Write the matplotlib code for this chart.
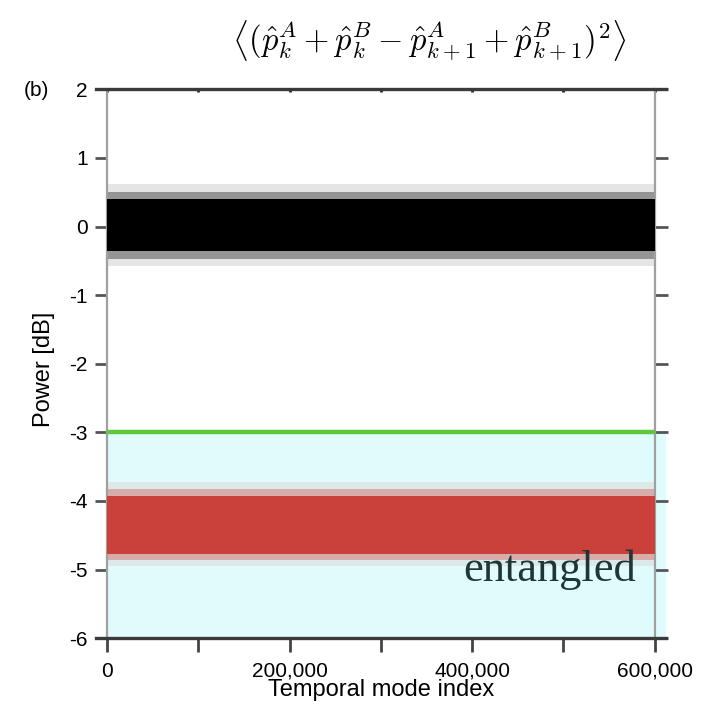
import matplotlib
matplotlib.use("Agg")
import matplotlib.pyplot as plt
import numpy as np

# === данные ===
mode_index = [0, 600000]                 # диапазон временных мод
x_ticks = [0, 100000, 200000, 300000, 400000, 500000, 600000]
x_labels = ['0', '', '200,000', '', '400,000', '', '600,000']
y_ticks = [2, 1, 0, -1, -2, -3, -4, -5, -6]

# шумовая полоса без запутанности (чёрная): ядро и размытые края, дБ
black_core = (0.40, -0.36)
black_mid = (0.50, -0.47)
black_outer = (0.62, -0.58)

# полоса с запутанностью (красная)
red_core = (-3.93, -4.78)
red_mid = (-3.83, -4.86)
red_outer = (-3.72, -4.95)

threshold_db = -3.0        # граница запутанности
floor_db = -6.0

# === оформление ===
plt.rcParams['font.family'] = ['Liberation Sans', 'DejaVu Sans']
plt.rcParams['mathtext.fontset'] = 'cm'

fig = plt.figure(figsize=(7.04, 7.09), dpi=100)
ax = fig.add_axes([0.152, 0.100, 0.778, 0.774])

# область "entangled"
ax.fill_between([0, 612000], floor_db, threshold_db, color='#e0fbfc', zorder=0,
                clip_on=False, lw=0)

def band(env_outer, env_mid, env_core, color):
    ax.fill_between(mode_index, env_outer[1], env_outer[0], color=color, alpha=0.10, lw=0, zorder=2)
    ax.fill_between(mode_index, env_mid[1], env_mid[0], color=color, alpha=0.35, lw=0, zorder=2)
    ax.fill_between(mode_index, env_core[1], env_core[0], color=color, lw=0, zorder=3)

band(black_outer, black_mid, black_core, 'black')
band(red_outer, red_mid, red_core, '#c9413a')

ax.plot(mode_index, [threshold_db, threshold_db], color='#5cc83a', lw=3.2, zorder=4)

ax.text(485000, -5.0, 'entangled', family='Liberation Serif', fontsize=32,
        color='#1f3636', ha='center', va='center', zorder=5)

ax.set_xlim(0, 600000)
ax.set_ylim(-6, 2)
ax.set_xticks(x_ticks)
ax.set_xticklabels(x_labels)
ax.set_yticks(y_ticks)
ax.set_yticklabels([str(v) for v in y_ticks])

for s in ['left', 'right']:
    ax.spines[s].set_color('#a0a0a0')
    ax.spines[s].set_linewidth(1.6)
for s in ['top', 'bottom']:
    ax.spines[s].set_visible(False)
# толстые верхняя и нижняя оси, чуть шире области
ax.axhline(2, xmin=-0.02, xmax=1.02, color='#3a3a3a', lw=2.4, clip_on=False, zorder=6)
ax.axhline(-6, xmin=-0.02, xmax=1.02, color='#3a3a3a', lw=2.4, clip_on=False, zorder=6)

ax.tick_params(axis='y', which='both', left=True, right=True, direction='out',
               length=9, width=2, color='#555555', labelsize=15, pad=5)
ax.tick_params(axis='x', which='both', bottom=True, top=False, direction='out',
               length=10, width=2, color='#444444', labelsize=15, pad=7)

# мелкие засечки сверху
top = ax.secondary_xaxis('top')
top.set_xticks(x_ticks)
top.tick_params(direction='in', length=2, width=2, color='#222222', labeltop=False)
top.spines['top'].set_visible(False)

ax.set_xlabel('Temporal mode index', fontsize=17, labelpad=-1)
ax.set_ylabel('Power [dB]', fontsize=17)
ax.yaxis.set_label_coords(-0.095, 0.49)

fig.text(0.052, 0.873, '(b)', fontsize=15, ha='center', va='center')
fig.text(0.61, 0.943,
         r'$\left\langle(\hat{p}_k^A+\hat{p}_k^B-\hat{p}_{k+1}^A+\hat{p}_{k+1}^B)^2\right\rangle$',
         fontsize=23.5, ha='center', va='center')

fig.savefig('out.png', dpi=100)
